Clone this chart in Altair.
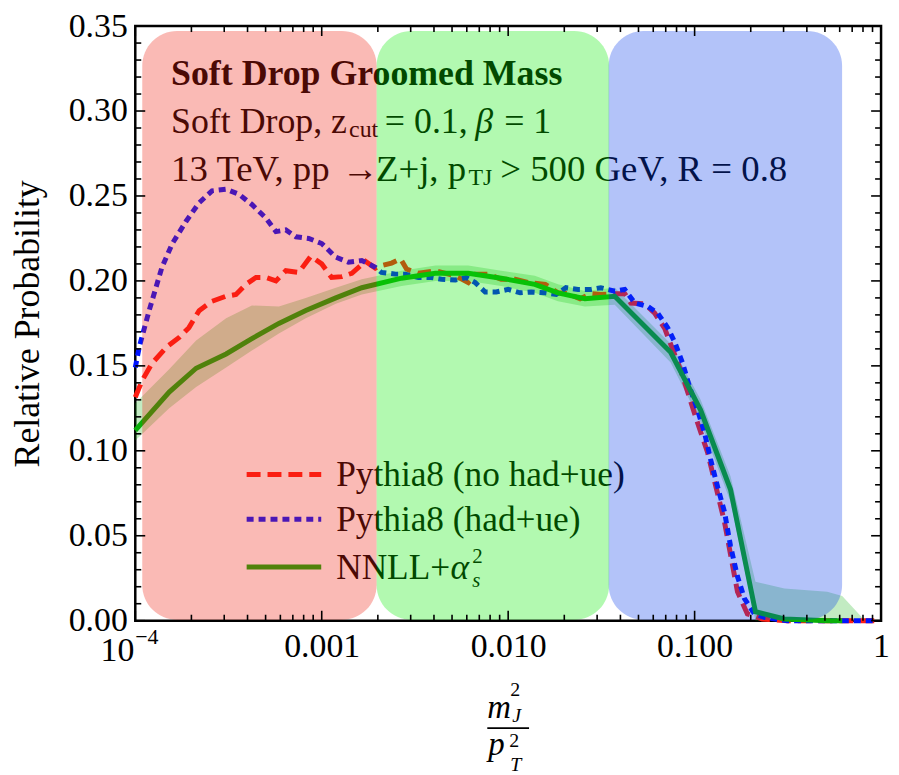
import altair as alt
import pandas as pd

FONT = "Liberation Serif"

# ---------------- data ----------------
# Pythia8 (no had+ue)
red_x = [1.0e-4, 1.09e-4, 1.23e-4, 1.47e-4, 1.72e-4, 1.94e-4, 2.20e-4, 2.58e-4, 3.07e-4, 3.47e-4,
         3.92e-4, 4.44e-4, 5.02e-4, 5.68e-4, 6.42e-4, 7.53e-4, 8.73e-4, 1.0e-3, 1.13e-3, 1.28e-3,
         1.45e-3, 1.72e-3, 1.94e-3, 2.09e-3, 2.37e-3, 2.65e-3, 2.85e-3, 3.30e-3, 4.07e-3, 5.21e-3,
         6.11e-3, 6.66e-3, 7.82e-3, 9.18e-3, 1.09e-2, 1.28e-2, 1.58e-2, 1.85e-2, 2.09e-2, 2.43e-2,
         2.78e-2, 3.14e-2, 3.73e-2, 4.22e-2, 4.55e-2, 5.40e-2, 6.11e-2, 6.91e-2, 8.42e-2, 0.1037,
         0.1174, 0.1447, 0.1698, 0.1920, 0.2310, 0.3143, 0.95]
red_y = [0.1315, 0.1415, 0.1515, 0.161, 0.1667, 0.1725, 0.1825, 0.188, 0.191, 0.192,
         0.198, 0.202, 0.202, 0.200, 0.206, 0.205, 0.2145, 0.210, 0.202, 0.2025,
         0.2045, 0.2115, 0.2075, 0.209, 0.2105, 0.213, 0.207, 0.2045, 0.206, 0.203,
         0.199, 0.204, 0.204, 0.201, 0.201, 0.199, 0.198, 0.193, 0.1925, 0.1895,
         0.1925, 0.192, 0.1925, 0.1925, 0.187, 0.1865, 0.181, 0.172, 0.1475, 0.1165,
         0.099, 0.058, 0.017, 0.004, 0.001, 0.0, 0.0]

# Pythia8 (had+ue)
blue_x = [1.0e-4, 1.05e-4, 1.19e-4, 1.39e-4, 1.58e-4, 1.87e-4, 2.20e-4, 2.58e-4, 3.07e-4, 3.60e-4,
          4.22e-4, 5.02e-4, 5.68e-4, 6.42e-4, 7.26e-4, 8.52e-4, 1.0e-3, 1.19e-3, 1.39e-3, 1.64e-3,
          1.94e-3, 2.09e-3, 2.49e-3, 2.81e-3, 3.30e-3, 3.87e-3, 4.38e-3, 5.21e-3, 5.96e-3, 6.66e-3,
          7.53e-3, 8.63e-3, 1.0e-2, 1.16e-2, 1.33e-2, 1.58e-2, 1.81e-2, 2.04e-2, 2.37e-2, 2.78e-2,
          3.14e-2, 3.73e-2, 4.22e-2, 4.78e-2, 5.61e-2, 6.34e-2, 7.17e-2, 7.82e-2, 8.63e-2, 9.40e-2,
          0.1037, 0.1131, 0.1218, 0.1327, 0.1447, 0.1558, 0.1698, 0.1851, 0.2094, 0.2367,
          0.3143, 0.95]
blue_y = [0.149, 0.161, 0.183, 0.208, 0.222, 0.235, 0.246, 0.253, 0.254, 0.251,
          0.245, 0.237, 0.229, 0.230, 0.226, 0.225, 0.222, 0.214, 0.211, 0.212,
          0.208, 0.205, 0.204, 0.204, 0.202, 0.202, 0.201, 0.2005, 0.202, 0.199,
          0.1935, 0.1935, 0.195, 0.193, 0.1935, 0.193, 0.192, 0.196, 0.195, 0.195,
          0.196, 0.194, 0.195, 0.187, 0.185, 0.181, 0.1725, 0.164, 0.1515, 0.1375,
          0.124, 0.1105, 0.095, 0.079, 0.064, 0.044, 0.026, 0.013, 0.004, 0.002,
          0.0, 0.0]

# NNLL + alpha_s^2 central curve
nnll_x = [1.0e-4, 1.52e-4, 2.12e-4, 3.07e-4, 4.22e-4, 5.89e-4, 8.21e-4, 1.19e-3, 1.64e-3, 2.68e-3,
          4.07e-3, 6.11e-3, 9.18e-3, 1.39e-2, 1.85e-2, 2.58e-2, 3.73e-2, 7.44e-2, 0.1077, 0.1558,
          0.212, 0.303, 0.514, 0.619]
nnll_y = [0.112, 0.1346, 0.1486, 0.157, 0.166, 0.175, 0.1826, 0.190, 0.196, 0.2016,
          0.2045, 0.2045, 0.2016, 0.198, 0.193, 0.1895, 0.191, 0.158, 0.124, 0.0772,
          0.0053, 0.001, 0.0, 0.0]

# NNLL uncertainty band
band_x = [1.0e-4, 1.52e-4, 2.12e-4, 3.07e-4, 4.22e-4, 5.89e-4, 8.21e-4, 1.19e-3, 1.64e-3, 2.68e-3,
          4.07e-3, 6.11e-3, 9.18e-3, 1.39e-2, 1.85e-2, 2.58e-2, 3.73e-2, 7.44e-2, 0.1077, 0.1558,
          0.212, 0.303, 0.514, 0.619, 0.821]
band_lo = [0.106, 0.125, 0.1375, 0.149, 0.159, 0.169, 0.178, 0.1865, 0.192, 0.197,
           0.200, 0.200, 0.197, 0.193, 0.188, 0.185, 0.186, 0.152, 0.117, 0.070,
           0.0, 0.0, 0.0, 0.0, 0.0]
band_hi = [0.128, 0.148, 0.165, 0.178, 0.1855, 0.185, 0.190, 0.196, 0.201, 0.206,
           0.209, 0.209, 0.206, 0.203, 0.198, 0.194, 0.196, 0.163, 0.130, 0.085,
           0.023, 0.019, 0.017, 0.0146, 0.0]

# shaded regions
region_lo = [1.09e-4, 1.97e-3, 3.46e-2]
region_hi = [1.97e-3, 3.48e-2, 0.618]
region_fill = ["#ef2010", "#07ec00", "#0a3dec"]

# axis ticks
y_major = [0.0, 0.05, 0.10, 0.15, 0.20, 0.25, 0.30, 0.35]
y_minor = [i / 100 for i in range(36) if i % 5 != 0]
x_major = [1e-4, 1e-3, 1e-2, 1e-1, 1.0]
x_minor = [m * 10.0 ** e for e in range(-4, 0) for m in range(2, 10)]

# ---------------- chart ----------------
W, H = 750, 598
RED, BLUE, GREEN = "#ff1e14", "#0014ff", "#0aaf0a"

xscale = alt.Scale(type="log", domain=[1e-4, 1.0])
yscale = alt.Scale(domain=[0, 0.35])
xaxis = alt.Axis(values=x_major, domain=False, ticks=False, grid=False,
                 labelExpr="datum.value < 0.0005 ? '' : (datum.value >= 1 ? '1' : format(datum.value, '.3f'))",
                 labelFont=FONT, labelFontSize=34, labelColor="black",
                 labelBaseline="alphabetic", labelPadding=36,
                 labelFlush=False, labelOverlap=False)
yaxis = alt.Axis(values=y_major, format=".2f", domain=False, ticks=False, grid=False,
                 labelFont=FONT, labelFontSize=34, labelColor="black", labelPadding=8,
                 titleFont=FONT, titleFontSize=36, titleFontWeight="normal",
                 titleColor="black", titlePadding=22)


def X(f):
    return alt.X(f, type="quantitative", scale=xscale, axis=xaxis, title=None)


def Y(f):
    return alt.Y(f, type="quantitative", scale=yscale, axis=yaxis, title="Relative Probability")


def txt(s, px, py, size=36, weight="normal", style="normal", align="left"):
    return alt.Chart(pd.DataFrame({"t": [s]})).mark_text(
        font=FONT, fontSize=size, fontWeight=weight, fontStyle=style,
        align=align, baseline="alphabetic", color="black"
    ).encode(text="t:N", x=alt.value(px), y=alt.value(py))


def seg(px1, px2, py, color, width, dash=None):
    kw = dict(color=color, strokeWidth=width)
    if dash:
        kw["strokeDash"] = dash
    return alt.Chart(pd.DataFrame({"a": [0]})).mark_rule(**kw).encode(
        x=alt.value(px1), x2=alt.value(px2), y=alt.value(py))


red_df = pd.DataFrame({"x": red_x, "y": red_y})
blue_df = pd.DataFrame({"x": blue_x, "y": blue_y})
nnll_df = pd.DataFrame({"x": nnll_x, "y": nnll_y})
band_df = pd.DataFrame({"x": band_x, "lo": band_lo, "hi": band_hi})
reg_df = pd.DataFrame({"x0": region_lo, "x1": region_hi, "fill": region_fill})

band = alt.Chart(band_df).mark_area(color=GREEN, opacity=0.25).encode(
    x=X("x"), y=Y("lo"), y2="hi")
red = alt.Chart(red_df).mark_line(color=RED, strokeWidth=5, strokeDash=[14, 7]).encode(
    x=X("x"), y=Y("y"))
blue = alt.Chart(blue_df).mark_line(color=BLUE, strokeWidth=5, strokeDash=[7, 5]).encode(
    x=X("x"), y=Y("y"))
green = alt.Chart(nnll_df).mark_line(color=GREEN, strokeWidth=5).encode(
    x=X("x"), y=Y("y"))

texts = [
    txt("Soft Drop Groomed Mass", 36, 59, weight="bold"),
    txt("Soft Drop, z", 36, 108),
    txt("cut", 215, 112, size=24),
    txt("= 0.1,", 251, 108),
    txt("β", 342, 108, style="italic"),
    txt("= 1", 371, 108),
    txt("13 TeV, pp", 36, 156, size=37),
    txt("→", 208, 156, size=37),
    txt("Z+j, p", 242, 156, size=37),
    txt("TJ", 335, 160, size=24),
    txt("> 500 GeV, R = 0.8", 367, 156, size=37),
    # legend
    txt("Pythia8 (no had+ue)", 202, 463, size=35.5),
    txt("Pythia8 (had+ue)", 202, 508, size=35.5),
    txt("NNLL+", 202, 556, size=35.5),
    txt("α", 317, 556, size=35.5, style="italic"),
    txt("2", 339, 540, size=21),
    txt("s", 339, 564, size=21, style="italic"),
    # x tick label 10^-4
    txt("10", -1, 639, size=34, align="right"),
    txt("−4", 0, 621, size=22),
    # x axis title (fraction)
    txt("m", 354, 696, size=33, style="italic"),
    txt("2", 377, 674, size=20),
    txt("J", 379, 700, size=20, style="italic"),
    txt("p", 355, 733, size=33, style="italic"),
    txt("2", 376, 725, size=20),
    txt("T", 377, 749, size=20, style="italic"),
]
frac_bar = seg(354, 396, 706, "black", 1.6)

legend_lines = [
    seg(112, 187, 451, RED, 5, [14, 7]),
    seg(112, 187, 496, BLUE, 5, [7, 5]),
    seg(112, 187, 544, GREEN, 5),
]

regions = alt.Chart(reg_df).mark_rect(cornerRadius=35, opacity=0.31).encode(
    x=X("x0"), x2="x1", y=alt.value(5), y2=alt.value(597),
    color=alt.Color("fill:N", scale=None))


def yticks(vals, length):
    d = pd.DataFrame({"v": vals})
    left = alt.Chart(d).mark_rule(color="black", strokeWidth=1.6).encode(
        y=Y("v"), x=alt.value(0), x2=alt.value(length))
    right = alt.Chart(d).mark_rule(color="black", strokeWidth=1.6).encode(
        y=Y("v"), x=alt.value(W - length), x2=alt.value(W))
    return [left, right]


def xticks(vals, length):
    d = pd.DataFrame({"v": vals})
    bottom = alt.Chart(d).mark_rule(color="black", strokeWidth=1.6).encode(
        x=X("v"), y=alt.value(H - length), y2=alt.value(H))
    top = alt.Chart(d).mark_rule(color="black", strokeWidth=1.6).encode(
        x=X("v"), y=alt.value(0), y2=alt.value(length))
    return [bottom, top]


ticks = yticks(y_major, 10) + yticks(y_minor, 6) + xticks(x_major, 10) + xticks(x_minor, 6)

chart = alt.layer(
    band, red, blue, green, *texts, frac_bar, *legend_lines, regions, *ticks
).properties(
    width=W, height=H,
    padding={"left": 128, "top": 16, "right": 10, "bottom": 153},
    autosize=alt.AutoSizeParams(type="none"),
).configure_view(stroke="black", strokeWidth=2.5)

chart.save("out.html", embed_options={"renderer": "svg", "actions": False})
